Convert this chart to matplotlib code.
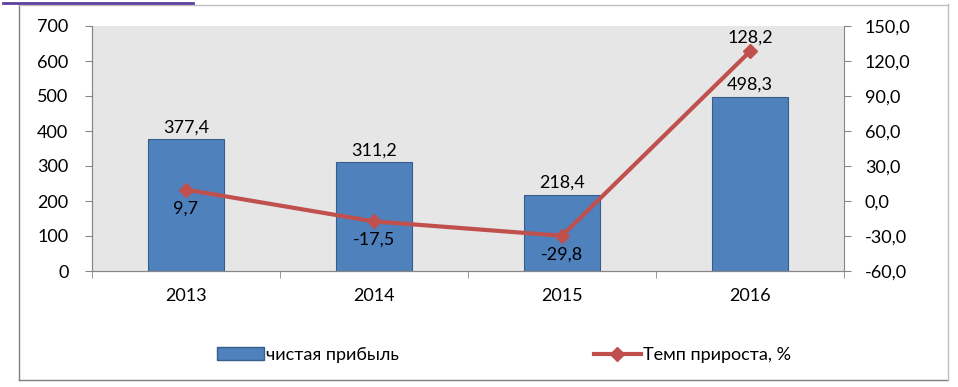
import numpy as np
import matplotlib.pyplot as plt
from matplotlib.lines import Line2D
from matplotlib.patches import Patch

plt.rcParams['font.family'] = ['Lato', 'DejaVu Sans']

years = ['2013', '2014', '2015', '2016']
profit = [377.4, 311.2, 218.4, 498.3]
growth = [9.7, -17.5, -29.8, 128.2]
profit_labels = ['377,4', '311,2', '218,4', '498,3']
growth_labels = ['9,7', '-17,5', '-29,8', '128,2']

bar_color = '#4F81BD'
line_color = '#C0504D'
axis_grey = '#868686'
fs = 13

fig = plt.figure(figsize=(9.58, 3.87), dpi=100)
ax = fig.add_axes([92 / 958, 1 - 271 / 387, (844 - 92) / 958, (271 - 26) / 387])
ax.set_facecolor('#E6E6E6')

x = np.arange(len(years))
ax.bar(x, profit, width=0.4, color=bar_color, edgecolor='#385D8A', linewidth=0.8, zorder=2)
ax.set_xlim(-0.5, len(years) - 0.5)
ax.set_ylim(0, 700)
ax.set_yticks(np.arange(0, 701, 100))
ax.set_xticks(x)
ax.set_xticklabels(years)
ax.set_xticks(np.arange(-0.5, len(years)), minor=True)
ax.tick_params(axis='x', which='major', length=0, pad=12, labelsize=fs)
ax.tick_params(axis='x', which='minor', length=5, color=axis_grey)
ax.tick_params(axis='y', length=5, color=axis_grey, labelsize=fs, pad=12)
for i, v in enumerate(profit):
    ax.text(x[i], v + 10, profit_labels[i], ha='center', va='bottom', fontsize=fs)

ax2 = ax.twinx()
ax2.plot(x, growth, color=line_color, linewidth=3, marker='D', markersize=7, zorder=3)
ax2.set_ylim(-60, 150)
ax2.set_yticks(np.arange(-60, 151, 30))
ax2.set_yticklabels([f'{v:.1f}'.replace('.', ',') for v in np.arange(-60, 151, 30)])
ax2.tick_params(axis='y', length=5, color=axis_grey, labelsize=fs, pad=10)
for i, v in enumerate(growth):
    if v > 100:
        ax2.text(x[i], v + 5, growth_labels[i], ha='center', va='bottom', fontsize=fs)
    else:
        ax2.text(x[i], v - 9, growth_labels[i], ha='center', va='top', fontsize=fs)

for a in (ax, ax2):
    a.spines['top'].set_visible(False)
    a.spines['left'].set_color(axis_grey)
    a.spines['right'].set_color(axis_grey)
    a.spines['bottom'].set_color(axis_grey)
ax.spines['right'].set_visible(False)

handles = [Patch(facecolor=bar_color, edgecolor='#385D8A'),
           Line2D([0], [0], color=line_color, linewidth=3, marker='D', markersize=7)]
fig.legend(handles, ['чистая прибыль', 'Темп прироста, %'], loc='center',
           bbox_to_anchor=(0.526, 1 - 355 / 387), ncol=2, frameon=False, fontsize=fs,
           columnspacing=10.8, handlelength=2.6, handletextpad=0.1)

# outer chart frame
fig.add_artist(Line2D([19 / 958, 19 / 958], [1 - 4 / 387, 1 - 380 / 387], color='#7F7F7F', lw=1))
fig.add_artist(Line2D([19 / 958, 948 / 958], [1 - 380 / 387, 1 - 380 / 387], color='#7F7F7F', lw=1))
fig.add_artist(Line2D([948 / 958, 948 / 958], [1 - 4 / 387, 1 - 380 / 387], color='#BFBFBF', lw=1))
fig.add_artist(Line2D([19 / 958, 948 / 958], [1 - 5 / 387, 1 - 5 / 387], color='#BFBFBF', lw=1))
fig.add_artist(Line2D([3 / 958, 193 / 958], [1 - 3 / 387, 1 - 3 / 387], color='#5F3F9F', lw=2))

fig.savefig('out.png', dpi=100)
